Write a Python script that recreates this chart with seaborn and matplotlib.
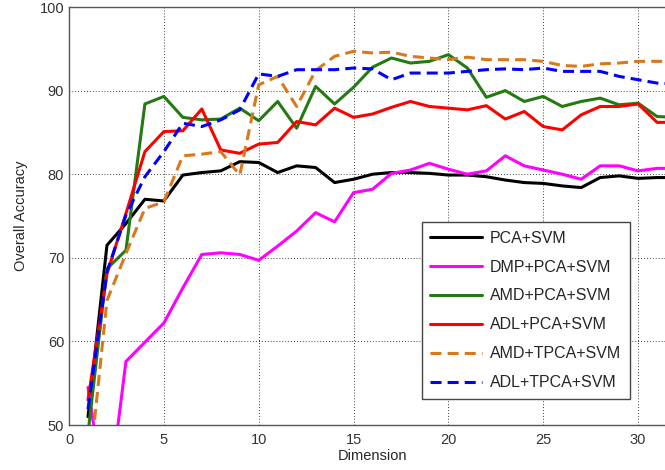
import numpy as np
import pandas as pd
import matplotlib
matplotlib.use("Agg")
import matplotlib.pyplot as plt
import seaborn as sns

# values
dims = list(range(1, 33))

pca_svm = [51.0, 71.5, 74.1, 77.0, 76.8, 79.9, 80.2, 80.4, 81.5, 81.4, 80.2, 81.0, 80.8, 79.0, 79.4, 80.0,
           80.2, 80.2, 80.1, 79.9, 79.9, 79.7, 79.3, 79.0, 78.9, 78.6, 78.4, 79.6, 79.8, 79.5, 79.6, 79.6]
dmp_pca_svm = [54.5, 39.5, 57.6, 59.9, 62.2, 66.4, 70.4, 70.6, 70.4, 69.7, 71.4, 73.2, 75.4, 74.3, 77.8, 78.2,
               80.1, 80.5, 81.3, 80.6, 80.0, 80.4, 82.2, 81.0, 80.5, 80.0, 79.4, 81.0, 81.0, 80.4, 80.7, 80.7]
amd_pca_svm = [49.0, 68.7, 70.9, 88.4, 89.3, 86.8, 86.5, 86.6, 87.9, 86.4, 88.7, 85.5, 90.5, 88.4, 90.4, 92.8,
               93.9, 93.3, 93.5, 94.3, 92.7, 89.2, 90.0, 88.7, 89.3, 88.1, 88.7, 89.1, 88.3, 88.5, 86.9, 86.8]
adl_pca_svm = [53.0, 68.1, 75.3, 82.7, 85.1, 85.2, 87.8, 82.9, 82.5, 83.6, 83.8, 86.3, 85.9, 87.9, 86.8, 87.2,
               88.0, 88.7, 88.1, 87.9, 87.7, 88.2, 86.6, 87.5, 85.7, 85.3, 87.1, 88.1, 88.1, 88.4, 86.2, 86.2]
amd_tpca_svm = [43.0, 64.9, 70.5, 75.9, 76.7, 82.2, 82.4, 82.7, 79.9, 90.7, 91.7, 88.1, 92.4, 94.1, 94.7, 94.5,
                94.6, 94.1, 93.9, 93.7, 94.0, 93.7, 93.7, 93.7, 93.5, 93.0, 92.9, 93.2, 93.3, 93.5, 93.5, 93.5]
adl_tpca_svm = [51.9, 68.3, 75.1, 79.7, 82.7, 86.1, 85.7, 86.5, 87.7, 92.0, 91.7, 92.5, 92.5, 92.5, 92.7, 92.6,
                91.3, 92.1, 92.1, 92.1, 92.3, 92.5, 92.6, 92.5, 92.7, 92.3, 92.3, 92.3, 91.7, 91.3, 90.9, 90.8]

series = [
    ("PCA+SVM", pca_svm, "black", "-"),
    ("DMP+PCA+SVM", dmp_pca_svm, "#ff00ff", "-"),
    ("AMD+PCA+SVM", amd_pca_svm, "#237a12", "-"),
    ("ADL+PCA+SVM", adl_pca_svm, "#ff0000", "-"),
    ("AMD+TPCA+SVM", amd_tpca_svm, "#d9781c", "--"),
    ("ADL+TPCA+SVM", adl_tpca_svm, "#0000ff", "--"),
]

sns.set_style("white")
plt.rcParams["font.family"] = ["Liberation Sans", "DejaVu Sans"]

fig = plt.figure(figsize=(6.65, 4.7), dpi=100)
ax = fig.add_axes([0.1038, 0.0957, 0.9128, 0.8894])

for name, vals, col, ls in series:
    df = pd.DataFrame({"Dimension": dims, "acc": vals})
    sns.lineplot(data=df, x="Dimension", y="acc", ax=ax, color=col, linestyle=ls,
                 linewidth=2.2, label=name, dashes=False)
    if ls == "--":
        ax.lines[-1].set_dashes((3.6, 2))

ax.set_xlim(0, 32)
ax.set_ylim(50, 100)
ax.set_xticks(range(0, 31, 5))
ax.set_yticks(range(50, 101, 10))
ax.grid(True, color="black", linestyle=(0, (1, 2.5)), linewidth=0.6)
ax.tick_params(direction="in", length=4, labelsize=10.5, colors="#333333")
ax.tick_params(axis="x", pad=6)
for sp in ax.spines.values():
    sp.set_color("#555555")
    sp.set_linewidth(1.0)
ax.set_xlabel("Dimension", fontsize=10.5, labelpad=1)
ax.set_ylabel("Overall Accuracy", fontsize=10.5, labelpad=8)

leg = ax.legend(loc="upper left", bbox_to_anchor=(0.581, 0.486), borderaxespad=0,
                fancybox=False, framealpha=1, edgecolor="#444444", fontsize=11.5,
                handlelength=3.2, handletextpad=0.5, labelspacing=0.87, borderpad=0.55)
leg.get_frame().set_linewidth(1.0)

fig.savefig("out.png", dpi=100)
